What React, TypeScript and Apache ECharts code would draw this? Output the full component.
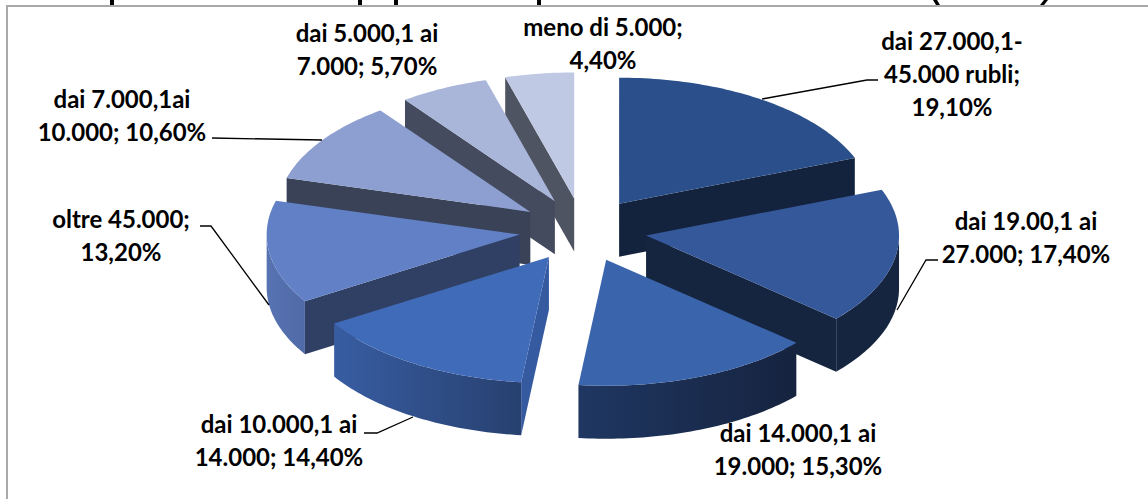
import React, { useEffect, useRef } from "react";
import * as echarts from "echarts";

// Income bands, clockwise from twelve o'clock, and their shares in percent
const bandNames = [
  "dai 27.000,1-\n45.000 rubli",
  "dai 19.00,1 ai\n27.000",
  "dai 14.000,1 ai\n19.000",
  "dai 10.000,1 ai\n14.000",
  "oltre 45.000",
  "dai 7.000,1ai\n10.000",
  "dai 5.000,1 ai\n7.000",
  "meno di 5.000",
];
const bandShares = [19.1, 17.4, 15.3, 14.4, 13.2, 10.6, 5.7, 4.4];
const shareOnOwnLine = [true, false, false, false, true, false, false, true];

const topColors = ["#2B4F8A", "#35589B", "#3A64AB", "#406BB8", "#6180C6", "#8C9FD0", "#A9B6D9", "#C0C9E4"];
const wallColors = ["#14233D", "#16253F", "#1E3560", "#355AA0", "#304065", "#3A4258", "#454B5E", "#4F5463"];
const rimStops = [
  ["#14233D", "#14233D"],
  ["#16253F", "#16253F"],
  ["#1F3762", "#16233F"],
  ["#385DA2", "#27406F"],
  ["#5873B2", "#4F6AA6"],
  ["#3A4258", "#3A4258"],
  ["#454B5E", "#454B5E"],
  ["#4F5463", "#4F5463"],
];

// Pie projection
const CX = 583;
const CY = 230;
const RADIUS = 253;
const TILT = 0.498;
const EXPLODE = 64;
const DEPTH = 53;

const total = bandShares.reduce((a, b) => a + b, 0);
const startAngle = (i: number) =>
  (bandShares.slice(0, i).reduce((a, b) => a + b, 0) / total) * Math.PI * 2;

function project(ox: number, oy: number, r: number, t: number, drop = 0): number[] {
  return [ox + r * Math.sin(t), oy - r * TILT * Math.cos(t) + drop];
}

function arcPoints(ox: number, oy: number, a: number, b: number, drop = 0): number[][] {
  const steps = Math.max(2, Math.ceil((b - a) / 0.02));
  const pts: number[][] = [];
  for (let s = 0; s <= steps; s++) pts.push(project(ox, oy, RADIUS, a + ((b - a) * s) / steps, drop));
  return pts;
}

function renderSlice(_params: any, api: any) {
  const i = api.value(1) as number;
  const share = api.value(0) as number;
  const a = startAngle(i);
  const b = a + (share / total) * Math.PI * 2;
  const mid = (a + b) / 2;
  const [ox, oy] = project(CX, CY, EXPLODE, mid);
  const apex = [ox, oy];
  const apexLow = [ox, oy + DEPTH];
  const children: any[] = [];
  const poly = (points: number[][], fill: any) => ({
    type: "polygon",
    shape: { points },
    style: { fill, stroke: "none" },
    silent: true,
  });

  // Radial wall facing the viewer
  if (Math.sin(b) > 0) {
    children.push(poly([apex, project(ox, oy, RADIUS, b), project(ox, oy, RADIUS, b, DEPTH), apexLow], wallColors[i]));
  }
  if (Math.sin(a) < 0) {
    children.push(poly([apex, project(ox, oy, RADIUS, a), project(ox, oy, RADIUS, a, DEPTH), apexLow], wallColors[i]));
  }
  // Outer rim, only on the front half of the ellipse
  const ra = Math.max(a, Math.PI / 2);
  const rb = Math.min(b, (Math.PI * 3) / 2);
  if (rb > ra) {
    const upper = arcPoints(ox, oy, ra, rb);
    const lower = arcPoints(ox, oy, ra, rb, DEPTH).reverse();
    // Stops run left to right on screen, the arc runs right to left
    children.push(
      poly(upper.concat(lower), {
        type: "linear",
        x: 0,
        y: 0,
        x2: 1,
        y2: 0,
        colorStops: [
          { offset: 0, color: rimStops[i][0] },
          { offset: 1, color: rimStops[i][1] },
        ],
      }),
    );
  }
  // Top face
  children.push(poly([apex, ...arcPoints(ox, oy, a, b)], topColors[i]));
  return { type: "group", children };
}

// Slices further from the viewer are painted first
const paintOrder = bandShares
  .map((_, i) => i)
  .sort((p, q) => {
    const m = (k: number) => startAngle(k) + (bandShares[k] / total) * Math.PI;
    return Math.cos(m(q)) - Math.cos(m(p));
  });

const pct = (v: number) => v.toFixed(2).replace(".", ",") + "%";
const labelText = (i: number) =>
  `${bandNames[i]};${shareOnOwnLine[i] ? "\n" : " "}${pct(bandShares[i])}`;

// Label anchors (centre of the text block) and leader lines, per slice
const labelAnchors = [
  [952, 73],
  [1026, 237],
  [798, 449],
  [279, 440],
  [121, 235],
  [122, 115],
  [367, 49],
  [603, 43],
];
const leaderLines: (number[][] | null)[] = [
  [[762, 99], [867, 80], [878, 80]],
  [[897, 310], [926, 260], [938, 260]],
  null,
  [[413, 417], [377, 433], [364, 433]],
  [[269, 305], [211, 226], [200, 226]],
  [[322, 140], [212, 138]],
  null,
  null,
];

// Lower ends of the heading's letters, which run past the frame's top edge
const clippedStems = [110, 358, 394, 537];
const clippedParens = [
  [[933, 0], [937, 0], [940, 5], [936, 5]],
  [[1044, 0], [1048, 0], [1044, 5], [1040, 5]],
];

export default function App() {
  const ref = useRef<HTMLDivElement>(null);
  useEffect(() => {
    const chart = echarts.init(ref.current!, undefined, { renderer: "svg" });
    const graphics: any[] = [
      { type: "rect", shape: { x: 6, y: 5, width: 1142, height: 2 }, style: { fill: "#A9A9A9" }, silent: true },
      { type: "rect", shape: { x: 6, y: 5, width: 2, height: 494 }, style: { fill: "#A9A9A9" }, silent: true },
    ];
    clippedStems.forEach((x) =>
      graphics.push({ type: "rect", shape: { x, y: 0, width: 4, height: 5 }, style: { fill: "#000" }, silent: true }),
    );
    clippedParens.forEach((points) =>
      graphics.push({ type: "polygon", shape: { points }, style: { fill: "#000" }, silent: true }),
    );
    leaderLines.forEach((points) => {
      if (points)
        graphics.push({
          type: "polyline",
          shape: { points },
          style: { stroke: "#000", lineWidth: 1.3, fill: "none" },
          z: 5,
          silent: true,
        });
    });
    bandNames.forEach((_, i) =>
      graphics.push({
        type: "text",
        x: labelAnchors[i][0],
        y: labelAnchors[i][1],
        z: 6,
        silent: true,
        style: {
          text: labelText(i),
          font: 'bold 24px Lato',
          fill: "#000",
          align: "center",
          verticalAlign: "middle",
          lineHeight: 33,
        },
      }),
    );
    chart.setOption({
      animation: false,
      backgroundColor: "#FFFFFF",
      graphic: { elements: graphics },
      series: [
        {
          type: "custom",
          coordinateSystem: "none",
          silent: true,
          clip: false,
          renderItem: renderSlice,
          data: paintOrder.map((i) => [bandShares[i], i]),
        },
      ],
    });
    return () => chart.dispose();
  }, []);
  return <div ref={ref} style={{ position: "fixed", left: 0, top: 0, width: 1148, height: 499 }} />;
}
